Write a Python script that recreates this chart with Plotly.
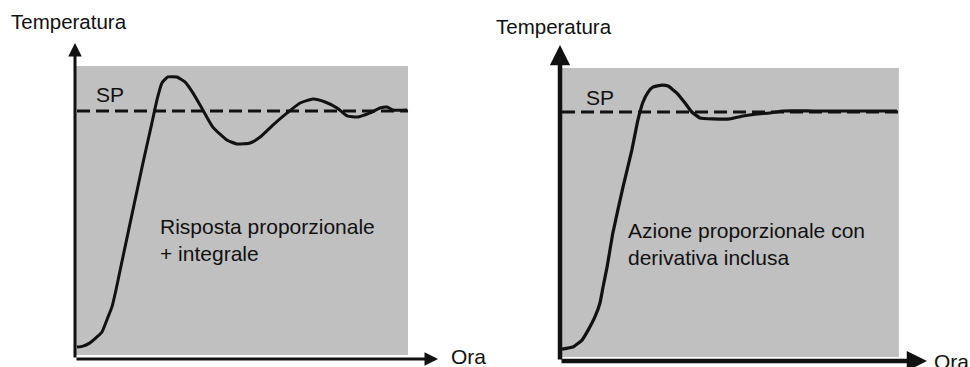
import plotly.graph_objects as go

W, H = 970, 367

# Temperature is normalised so that the set point equals 1; time is in arbitrary units.
setpoint = 1.0

# Proportional + integral response
pi_time = [0.06, 0.24, 0.45, 0.66, 0.81, 0.99, 1.11, 1.23, 1.35, 1.47, 1.74, 2.04,
           2.31, 2.46, 2.61, 2.79, 3.06, 3.30, 3.54, 3.84, 4.14, 4.56, 4.86, 5.26,
           5.56, 5.95, 6.37, 6.76, 7.15, 7.51, 7.87, 8.17, 8.50, 8.86, 9.16, 9.37,
           9.55, 9.97]
pi_temp = [0.048, 0.052, 0.065, 0.089, 0.109, 0.169, 0.210, 0.278, 0.355, 0.431, 0.601, 0.790,
           0.952, 1.044, 1.113, 1.137, 1.137, 1.117, 1.073, 1.004, 0.935, 0.883, 0.867, 0.871,
           0.895, 0.944, 0.992, 1.032, 1.048, 1.036, 1.012, 0.980, 0.976, 0.992, 1.012, 1.016,
           1.004, 1.004]

# Proportional action with derivative included
pd_time = [0.06, 0.38, 0.65, 0.83, 1.03, 1.18, 1.27, 1.39, 1.56, 1.86, 2.12, 2.30,
           2.45, 2.60, 2.74, 3.01, 3.19, 3.45, 3.69, 3.89, 4.13, 4.51, 5.01, 5.40,
           5.81, 6.19, 6.58, 7.47, 9.94]
pd_temp = [0.048, 0.056, 0.084, 0.124, 0.177, 0.233, 0.297, 0.378, 0.514, 0.699, 0.847, 0.968,
           1.040, 1.080, 1.100, 1.108, 1.104, 1.076, 1.036, 1.000, 0.976, 0.972, 0.972, 0.984,
           0.992, 0.996, 1.004, 1.004, 1.004]

panel_labels = ["Risposta proporzionale<br>+ integrale",
                "Azione proporzionale con<br>derivativa inclusa"]
y_title = "Temperatura"
x_title = "Ora"
sp_label = "SP"

INK = "#111111"
GREY = "#c0c0c0"
FONT = "Liberation Sans, Arial, sans-serif"


def px(x):
    return x / W


def py(y):
    return 1 - y / H


fig = go.Figure()

# set-point lines
for xa, ya in [("x", "y"), ("x2", "y2")]:
    fig.add_trace(go.Scatter(x=[0.06, 10.0], y=[setpoint, setpoint], mode="lines",
                             line=dict(color=INK, width=3, dash="13px,6px"),
                             xaxis=xa, yaxis=ya, hoverinfo="skip"))

# response curves
fig.add_trace(go.Scatter(x=pi_time, y=pi_temp, mode="lines",
                         line=dict(color=INK, width=3, shape="spline", smoothing=0.5),
                         xaxis="x", yaxis="y"))
fig.add_trace(go.Scatter(x=pd_time, y=pd_temp, mode="lines",
                         line=dict(color=INK, width=3.2, shape="spline", smoothing=0.35),
                         xaxis="x2", yaxis="y2"))

# shaded plotting areas
fig.add_shape(type="rect", xref="x", yref="y", x0=0, x1=10.0, y0=0.016, y1=1.181,
              fillcolor=GREY, line_width=0, layer="below")
fig.add_shape(type="rect", xref="x2", yref="y2", x0=0, x1=10.0, y0=0.016, y1=1.177,
              fillcolor=GREY, line_width=0, layer="below")

annotations = []

# axes drawn as arrows from the origin
for xr, yr, xtip, ytip, w in [("x", "y", 10.9, 1.274, 3), ("x2", "y2", 10.83, 1.269, 4.5)]:
    annotations.append(dict(x=xtip, y=0, ax=0, ay=0, xref=xr, yref=yr, axref=xr, ayref=yr,
                            showarrow=True, arrowhead=2, arrowsize=0.9, arrowwidth=w,
                            arrowcolor=INK, text=""))
    annotations.append(dict(x=0, y=ytip, ax=0, ay=0, xref=xr, yref=yr, axref=xr, ayref=yr,
                            showarrow=True, arrowhead=2, arrowsize=0.9, arrowwidth=w,
                            arrowcolor=INK, text=""))


def label(text, x, baseline, size=21):
    # place text by its left edge and baseline, in pixels
    top = baseline - 0.905 * size
    annotations.append(dict(text=text, x=px(x), y=py(top), xref="paper", yref="paper",
                            xanchor="left", yanchor="top", showarrow=False, borderpad=0,
                            align="left", font=dict(family=FONT, size=size, color=INK)))


label(y_title, 10, 28, 20.5)
label(y_title, 495, 33, 20.5)
label(sp_label, 95, 101)
label(sp_label, 585, 104)
label(panel_labels[0], 159, 233)
label(panel_labels[1], 627, 237)
label(x_title, 450, 363)
label(x_title, 933, 368)

axis_common = dict(visible=False, fixedrange=True, showgrid=False, zeroline=False)

fig.update_layout(
    width=W, height=H,
    margin=dict(l=0, r=0, t=0, b=0),
    paper_bgcolor="white", plot_bgcolor="rgba(0,0,0,0)",
    showlegend=False,
    xaxis=dict(domain=[px(75), px(438)], range=[0, 10.9], **axis_common),
    yaxis=dict(domain=[py(359), py(43)], range=[0, 1.274], **axis_common),
    xaxis2=dict(domain=[px(560), px(927)], range=[0, 10.83], anchor="y2", **axis_common),
    yaxis2=dict(domain=[py(361), py(45)], range=[0, 1.269], anchor="x2", **axis_common),
    annotations=annotations,
)

fig.write_html("out.html", config={"displayModeBar": False})
